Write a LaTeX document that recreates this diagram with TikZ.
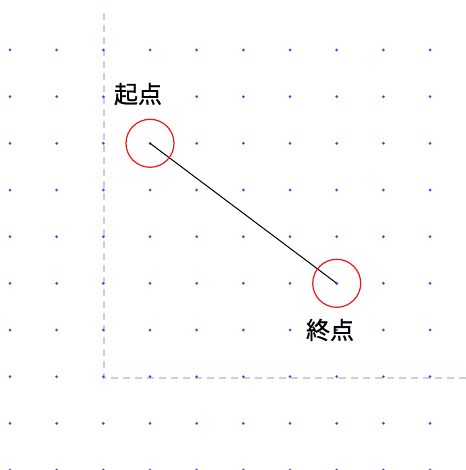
\documentclass[tikz,border=0pt]{standalone}
\usepackage{fontspec}
\newfontfamily\jpfont[FakeBold=0.8]{Noto Sans CJK JP}
\definecolor{dotblue}{RGB}{70,70,230}
\definecolor{guide}{RGB}{192,210,232}
\definecolor{ring}{RGB}{240,20,20}
\tikzset{
  griddot/.style={fill=dotblue},
  guideline/.style={draw=guide, line width=2.4pt, dash pattern=on 7pt off 5pt},
  marker/.style={circle, draw=ring, line width=1.2pt, minimum size=48pt, inner sep=0pt},
  label/.style={font=\jpfont\fontsize{24}{24}\selectfont, inner sep=0pt},
  segment/.style={draw=black, line width=1pt}
}
\begin{document}
\begin{tikzpicture}[x=1pt, y=-1pt]
\useasboundingbox (0,0) rectangle (465,470);
\fill[white] (0,0) rectangle (465,470);
% guide lines
\draw[guideline] (104,13) -- (104,378) -- (466,378);
% dot grid
\foreach \i in {0,...,9} {
  \foreach \j in {0,...,9} {
    \fill[griddot] ({10+46.67*\i},{50+46.67*\j}) circle (1.5pt);
  }
}
\coordinate (start) at (150,143.3);
\coordinate (end) at (336.7,283.3);
\draw[segment] (start) -- (end);
\fill[griddot] (end) circle (1.5pt);
\node[marker] (startring) at (start) {};
\node[marker] (endring) at (end) {};
\node[label] (startlabel) at (138,94) {起点};
\node[label] (endlabel) at (330,330) {終点};
\end{tikzpicture}
\end{document}
